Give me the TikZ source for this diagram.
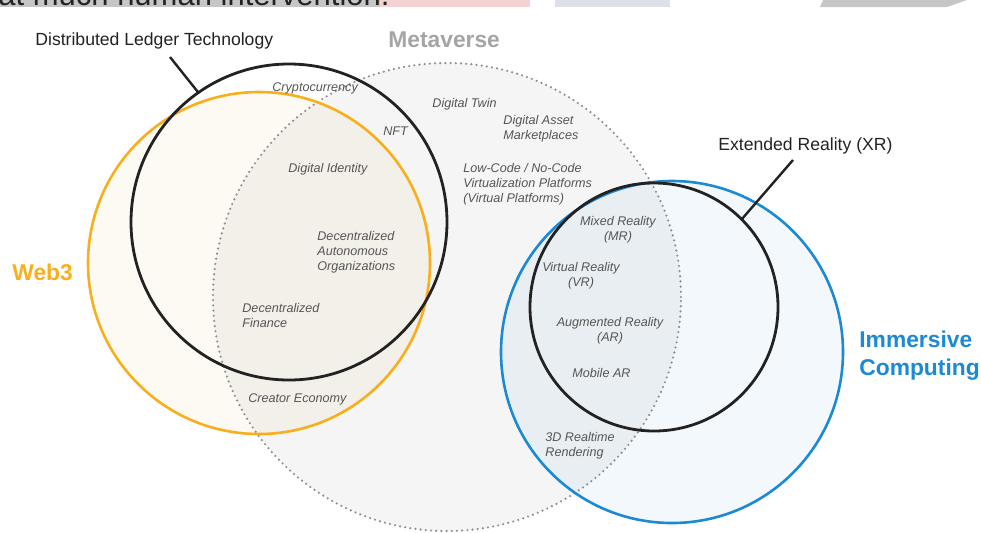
\documentclass[tikz,border=0pt]{standalone}
\usepackage{fontspec}
\setmainfont{Liberation Sans}
\definecolor{metafill}{HTML}{F5F5F5}
\definecolor{webfill}{HTML}{FDFAF4}
\definecolor{webmeta}{HTML}{F3EFE9}
\definecolor{immfill}{HTML}{F3F8FC}
\definecolor{immmeta}{HTML}{E8EEF2}
\definecolor{weborange}{HTML}{F9AE1B}
\definecolor{immblue}{HTML}{1B8AD3}
\definecolor{metagray}{HTML}{A5A5A5}
\definecolor{dotgray}{HTML}{8E8E8E}
\definecolor{itemgray}{HTML}{555555}
\definecolor{labelblack}{HTML}{222222}
\definecolor{bandgray}{HTML}{C6C6C6}
\definecolor{bandpink}{HTML}{F4D2D2}
\definecolor{bandblue}{HTML}{DCE0E8}
\begin{document}
\begin{tikzpicture}[x=0.5pt,y=-0.5pt,
  ring/.style={circle, inner sep=0pt, outer sep=0pt, draw},
  blackring/.style={ring, draw=labelblack, line width=1.4pt},
  dotring/.style={ring, draw=dotgray, line width=1.2pt, line cap=round, dash pattern=on 0pt off 2.6pt},
  item/.style={font=\fontsize{6.3}{7.5}\selectfont\itshape, text=itemgray, inner sep=0pt},
  bigtext/.style={font=\fontsize{8.8}{10.5}\selectfont, text=labelblack, inner sep=0pt},
  titletext/.style={font=\fontsize{11.4}{14}\selectfont\bfseries, inner sep=0pt},
  leader/.style={draw=labelblack, line width=1.2pt}
]
\useasboundingbox (0,0) rectangle (981,532);
% --- cropped strip at the very top
\fill[bandgray] (0,0) rectangle (380,7);
\fill[bandpink] (380,0) rectangle (530,7);
\fill[bandblue] (555,0) rectangle (670,7);
\fill[bandgray] (823,0) -- (967,0) -- (947,7) -- (820,7) -- cycle;
\node[anchor=base west, inner sep=0pt, font=\fontsize{15.5}{18}\selectfont, text=labelblack] (topline) at (-2,5.5) {at much human intervention.};

% --- fills
\fill[metafill] (447,297) circle[radius=117pt];
\fill[webfill] (259,263) circle[radius=85.5pt];
\fill[immfill] (672,352) circle[radius=85.5pt];
\begin{scope}
  \clip (447,297) circle[radius=117pt];
  \fill[webmeta] (259,263) circle[radius=85.5pt];
  \fill[immmeta] (672,352) circle[radius=85.5pt];
\end{scope}

% --- circles
\node[dotring, minimum size=234pt] (meta) at (447,297) {};
\node[ring, draw=weborange, line width=1.3pt, minimum size=171pt] (web) at (259,263) {};
\node[ring, draw=immblue, line width=1.3pt, minimum size=171pt] (imm) at (672,352) {};
\node[blackring, minimum size=158pt] (dlt) at (289,222) {};
\node[blackring, minimum size=124pt] (xr) at (654,307) {};

% --- leaders and big labels
\node[bigtext, anchor=base west] (dltlabel) at (35,45) {Distributed Ledger Technology};
\coordinate (dltA) at (170,57);
\draw[leader] (dltA) -- (dlt.125.5);
\node[bigtext, anchor=base west] (xrlabel) at (718,150) {Extended Reality (XR)};
\coordinate (xrA) at (793,160);
\draw[leader] (xrA) -- (xr.45.3);

\node[titletext, text=metagray, anchor=base west] (metalabel) at (388,47) {Metaverse};
\node[titletext, text=weborange, anchor=base west] (weblabel) at (12,280) {Web3};
\node[titletext, text=immblue, anchor=base west] (immlabelA) at (859,347) {Immersive};
\node[titletext, text=immblue, anchor=base west] (immlabelB) at (859,375) {Computing};

% --- items
\node[item, anchor=base west] (crypto) at (272,91) {Cryptocurrency};
\node[item, anchor=base west] (nft) at (383,135) {NFT};
\node[item, anchor=base west] (twin) at (432,107) {Digital Twin};
\node[item, anchor=west, align=left] (asset) at (503,129) {Digital Asset\\Marketplaces};
\node[item, anchor=west, align=left] (lowcode) at (463,184) {Low-Code / No-Code\\Virtualization Platforms\\(Virtual Platforms)};
\node[item, anchor=base west] (ident) at (288,172) {Digital Identity};
\node[item, anchor=west, align=left] (dao) at (317,252) {Decentralized\\Autonomous\\Organizations};
\node[item, anchor=west, align=left] (defi) at (242,315.5) {Decentralized\\Finance};
\node[item, anchor=base west] (creator) at (248,402) {Creator Economy};
\node[item, align=center] (mr) at (618,230) {Mixed Reality\\(MR)};
\node[item, align=center] (vr) at (581,276) {Virtual Reality\\(VR)};
\node[item, align=center] (ar) at (610,331) {Augmented Reality\\(AR)};
\node[item, anchor=base] (mobile) at (601.5,377.5) {Mobile AR};
\node[item, anchor=west, align=left] (render) at (545,445.5) {3D Realtime\\Rendering};
\end{tikzpicture}
\end{document}
